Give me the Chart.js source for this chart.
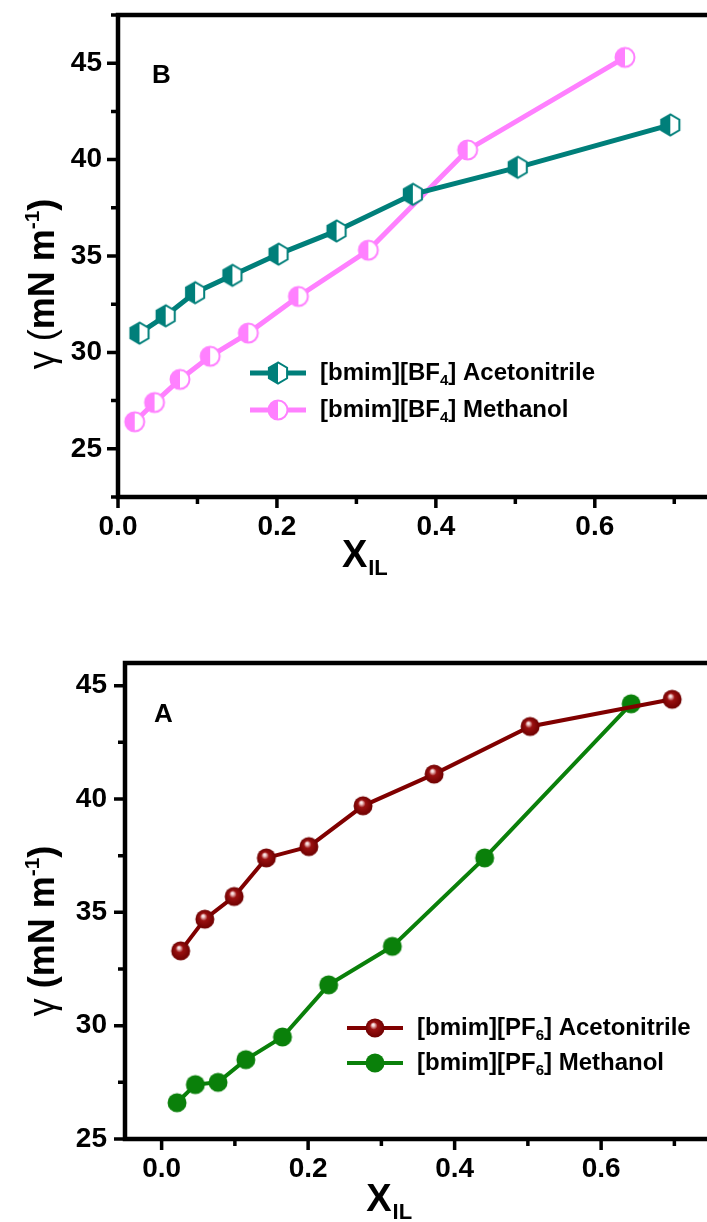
<!DOCTYPE html>
<html>
<head>
<meta charset="utf-8">
<script src="https://cdn.jsdelivr.net/npm/chart.js@4.4.1/dist/chart.umd.min.js"></script>
<style>
  html, body { margin: 0; padding: 0; background: #fff; }
  #wrap { position: relative; width: 707px; height: 1222px; overflow: hidden; }
  .box { position: absolute; left: 0; width: 740px; }
  #boxB { top: 0; height: 620px; }
  #boxA { top: 620px; height: 602px; }
</style>
</head>
<body>
<div id="wrap">
  <div class="box" id="boxB"><canvas id="chartB"></canvas></div>
  <div class="box" id="boxA"><canvas id="chartA"></canvas></div>
</div>
<script>
// panel B : [bmim][BF4]
const xAcnB = [0.027, 0.060, 0.097, 0.144, 0.202, 0.275, 0.371, 0.503, 0.695];
const yAcnB = [31.0, 31.9, 33.1, 34.0, 35.1, 36.3, 38.2, 39.6, 41.8];
const xMeoB = [0.021, 0.046, 0.078, 0.116, 0.164, 0.227, 0.315, 0.440, 0.638];
const yMeoB = [26.4, 27.4, 28.6, 29.8, 31.0, 32.9, 35.3, 40.5, 45.3];

// panel A : [bmim][PF6]
const xAcnA = [0.026, 0.059, 0.099, 0.143, 0.201, 0.275, 0.372, 0.503, 0.697];
const yAcnA = [33.3, 34.7, 35.7, 37.4, 37.9, 39.7, 41.1, 43.2, 44.4];
const xMeoA = [0.021, 0.046, 0.077, 0.115, 0.165, 0.228, 0.315, 0.441, 0.641];
const yMeoA = [26.6, 27.4, 27.5, 28.5, 29.5, 31.8, 33.5, 37.4, 44.2];

const namesB = ['[bmim][BF4] Acetonitrile', '[bmim][BF4] Methanol'];
const namesA = ['[bmim][PF6] Acetonitrile', '[bmim][PF6] Methanol'];

// tick values (labels only on the major ones)
const xTicks = [0, 0.1, 0.2, 0.3, 0.4, 0.5, 0.6, 0.7];
const yTicksB = [22.5, 25, 27.5, 30, 32.5, 35, 37.5, 40, 42.5, 45, 47.5];
const yTicksA = [25, 27.5, 30, 32.5, 35, 37.5, 40, 42.5, 45];

const FONT = '"Liberation Sans", Arial, Helvetica, sans-serif';

// ---- marker images ----
function halfHex(color) {
  const c = document.createElement('canvas');
  c.width = 24; c.height = 26;
  const g = c.getContext('2d');
  const cx = 12, cy = 13, r = 10.5;
  g.beginPath();
  for (let k = 0; k < 6; k++) {
    const a = Math.PI / 2 + k * Math.PI / 3;
    const px = cx + r * Math.cos(a), py = cy - r * Math.sin(a);
    k ? g.lineTo(px, py) : g.moveTo(px, py);
  }
  g.closePath();
  g.fillStyle = '#fff';
  g.fill();
  g.save();
  g.clip();
  g.fillStyle = color;
  g.fillRect(0, 0, cx, c.height);
  g.restore();
  g.lineWidth = 2;
  g.strokeStyle = color;
  g.stroke();
  return c;
}

function halfCircle(color) {
  const c = document.createElement('canvas');
  c.width = 24; c.height = 24;
  const g = c.getContext('2d');
  const cx = 12, cy = 12, r = 9.5;
  g.beginPath();
  g.arc(cx, cy, r, 0, Math.PI * 2);
  g.fillStyle = '#fff';
  g.fill();
  g.beginPath();
  g.arc(cx, cy, r, Math.PI / 2, Math.PI * 1.5);
  g.closePath();
  g.fillStyle = color;
  g.fill();
  g.beginPath();
  g.arc(cx, cy, r, 0, Math.PI * 2);
  g.lineWidth = 2;
  g.strokeStyle = color;
  g.stroke();
  return c;
}

function sphere() {
  const c = document.createElement('canvas');
  c.width = 22; c.height = 22;
  const g = c.getContext('2d');
  const cx = 11, cy = 11, r = 9.5;
  const grad = g.createRadialGradient(cx - 2, cy - 3.5, 0, cx, cy, r);
  grad.addColorStop(0, '#ffffff');
  grad.addColorStop(0.15, '#f0c8c8');
  grad.addColorStop(0.4, '#9a1010');
  grad.addColorStop(1, '#6e0000');
  g.beginPath();
  g.arc(cx, cy, r, 0, Math.PI * 2);
  g.fillStyle = grad;
  g.fill();
  return c;
}

function dot(color) {
  const c = document.createElement('canvas');
  c.width = 22; c.height = 22;
  const g = c.getContext('2d');
  g.beginPath();
  g.arc(11, 11, 9.5, 0, Math.PI * 2);
  g.fillStyle = color;
  g.fill();
  return c;
}

const TEAL = '#007f7a', PINK = '#ff80ff', WINE = '#800000', GREEN = '#0a800a';

function isMajor(v, step) {
  return Math.abs(v / step - Math.round(v / step)) < 1e-6;
}

// text with a single digit subscript (BF4 / PF6)
function drawSubText(ctx, text, x, y, size) {
  const m = text.match(/^(.*?[A-Z]F)(\d)(.*)$/);
  const big = 'bold ' + size + 'px ' + FONT;
  const small = 'bold ' + Math.round(size * 0.62) + 'px ' + FONT;
  ctx.textBaseline = 'middle';
  ctx.textAlign = 'left';
  if (!m) { ctx.font = big; ctx.fillText(text, x, y); return; }
  ctx.font = big; ctx.fillText(m[1], x, y); x += ctx.measureText(m[1]).width;
  ctx.font = small; ctx.fillText(m[2], x, y + size * 0.32); x += ctx.measureText(m[2]).width;
  ctx.font = big; ctx.fillText(m[3], x, y);
}

const decor = {
  id: 'decor',
  afterDraw(chart, args, o) {
    const { ctx, chartArea: a, scales: { x, y } } = chart;
    ctx.save();
    // frame
    ctx.strokeStyle = '#000';
    ctx.lineWidth = 4.5;
    ctx.strokeRect(a.left, a.top, a.right - a.left, a.bottom - a.top);
    // tick marks, major longer than minor
    ctx.lineWidth = 3.5;
    ctx.beginPath();
    x.ticks.forEach(t => {
      const p = x.getPixelForValue(t.value);
      const len = isMajor(t.value, 0.2) ? 11 : 7;
      ctx.moveTo(p, a.bottom); ctx.lineTo(p, a.bottom + len);
    });
    y.ticks.forEach(t => {
      const p = y.getPixelForValue(t.value);
      const len = isMajor(t.value, 5) ? 11 : 7;
      ctx.moveTo(a.left, p); ctx.lineTo(a.left - len, p);
    });
    ctx.stroke();

    // panel letter
    ctx.fillStyle = '#000';
    ctx.font = 'bold 26px ' + FONT;
    ctx.textAlign = 'left';
    ctx.textBaseline = 'middle';
    ctx.fillText(o.letter, a.left + o.letterDx, a.top + o.letterDy);

    // legend
    chart.data.datasets.forEach((ds, i) => {
      const ly = o.legY + i * o.legGap;
      ctx.strokeStyle = ds.borderColor;
      ctx.lineWidth = ds.borderWidth;
      ctx.beginPath();
      ctx.moveTo(o.legX, ly); ctx.lineTo(o.legX + 56, ly);
      ctx.stroke();
      const img = ds.pointStyle;
      ctx.drawImage(img, o.legX + 28 - img.width / 2, ly - img.height / 2);
      ctx.fillStyle = '#000';
      drawSubText(ctx, ds.label, o.legX + 70, ly, 24);
    });

    // y title: γ (mN m-1), rotated
    const cy = (a.top + a.bottom) / 2 + o.yTitleDy;
    ctx.translate(o.yTitleX, cy);
    ctx.rotate(-Math.PI / 2);
    const parts = [
      { t: 'γ ', f: '36px ' + FONT, dy: 0 },
      { t: '(', f: (o.thinParen ? '' : 'bold ') + '36px ' + FONT, dy: 0 },
      { t: 'mN m', f: 'bold 36px ' + FONT, dy: 0 },
      { t: '-1', f: 'bold 21px ' + FONT, dy: -15 },
      { t: ')', f: 'bold 36px ' + FONT, dy: 0 }
    ];
    let total = 0;
    parts.forEach(p => { ctx.font = p.f; p.w = ctx.measureText(p.t).width; total += p.w; });
    let px = -total / 2;
    ctx.textBaseline = 'alphabetic';
    ctx.textAlign = 'left';
    ctx.fillStyle = '#000';
    parts.forEach(p => { ctx.font = p.f; ctx.fillText(p.t, px, p.dy); px += p.w; });
    ctx.setTransform(1, 0, 0, 1, 0, 0);

    // x title: X_IL
    ctx.font = 'bold 38px ' + FONT;
    const wX = ctx.measureText('X').width;
    ctx.font = 'bold 22px ' + FONT;
    const wIL = ctx.measureText('IL').width;
    let tx = x.getPixelForValue(o.xTitleAt) - (wX + wIL) / 2;
    const ty = a.bottom + o.xTitleDy;
    ctx.textBaseline = 'alphabetic';
    ctx.font = 'bold 38px ' + FONT;
    ctx.fillText('X', tx, ty);
    ctx.font = 'bold 22px ' + FONT;
    ctx.fillText('IL', tx + wX + 1, ty + 8);
    ctx.restore();
  }
};

function series(label, xs, ys, color, width, marker) {
  return {
    label: label,
    data: xs.map((v, i) => ({ x: v, y: ys[i] })),
    borderColor: color,
    backgroundColor: color,
    borderWidth: width,
    pointStyle: marker,
    pointRadius: 9,
    pointHoverRadius: 9,
    tension: 0,
    fill: false
  };
}

function makeChart(id, datasets, cfg) {
  return new Chart(document.getElementById(id), {
    type: 'line',
    data: { datasets: datasets },
    options: {
      responsive: true,
      maintainAspectRatio: false,
      animation: false,
      events: [],
      layout: { padding: { left: 0, top: cfg.padTop, right: cfg.padRight, bottom: 0 } },
      plugins: {
        legend: { display: false },
        tooltip: { enabled: false },
        decor: cfg.decor
      },
      scales: {
        x: {
          type: 'linear',
          min: cfg.xMin,
          max: cfg.xMax,
          afterBuildTicks: s => { s.ticks = xTicks.map(v => ({ value: v })); },
          afterFit: s => { s.height = cfg.xHeight; s.paddingLeft = 0; s.paddingRight = 0; },
          grid: { display: false, tickLength: 11 },
          border: { display: false },
          ticks: {
            autoSkip: false,
            maxRotation: 0,
            padding: 2,
            color: '#000',
            font: { family: FONT, size: 28, weight: 'bold' },
            callback: v => isMajor(v, 0.2) ? v.toFixed(1) : ''
          }
        },
        y: {
          type: 'linear',
          min: cfg.yMin,
          max: cfg.yMax,
          afterBuildTicks: s => { s.ticks = cfg.yTicks.map(v => ({ value: v })); },
          afterFit: s => { s.width = cfg.yWidth; s.paddingTop = 0; s.paddingBottom = 0; },
          grid: { display: false, tickLength: 11 },
          border: { display: false },
          ticks: {
            autoSkip: false,
            padding: cfg.yPad,
            color: '#000',
            font: { family: FONT, size: 28, weight: 'bold' },
            callback: v => isMajor(v, 5) ? String(v) : ''
          }
        }
      }
    },
    plugins: [decor]
  });
}

makeChart('chartB', [
  series(namesB[0], xAcnB, yAcnB, TEAL, 5, halfHex(TEAL)),
  series(namesB[1], xMeoB, yMeoB, PINK, 5, halfCircle(PINK))
], {
  padTop: 15, padRight: 26, xHeight: 123, yWidth: 118, yPad: 5,
  xMin: 0, xMax: 0.75, yMin: 22.5, yMax: 47.5, yTicks: yTicksB,
  decor: {
    letter: 'B', letterDx: 34, letterDy: 61,
    legX: 250, legY: 373, legGap: 37,
    yTitleX: 54, yTitleDy: 28, thinParen: true,
    xTitleAt: 0.31, xTitleDy: 70
  }
});

makeChart('chartA', [
  series(namesA[0], xAcnA, yAcnA, WINE, 4, sphere()),
  series(namesA[1], xMeoA, yMeoA, GREEN, 4, dot(GREEN))
], {
  padTop: 43, padRight: 29, xHeight: 83, yWidth: 125, yPad: 7,
  xMin: -0.05, xMax: 0.75, yMin: 25, yMax: 46, yTicks: yTicksA,
  decor: {
    letter: 'A', letterDx: 29, letterDy: 52,
    legX: 347, legY: 408, legGap: 35,
    yTitleX: 54, yTitleDy: 30, thinParen: false,
    xTitleAt: 0.31, xTitleDy: 72
  }
});
</script>
</body>
</html>
